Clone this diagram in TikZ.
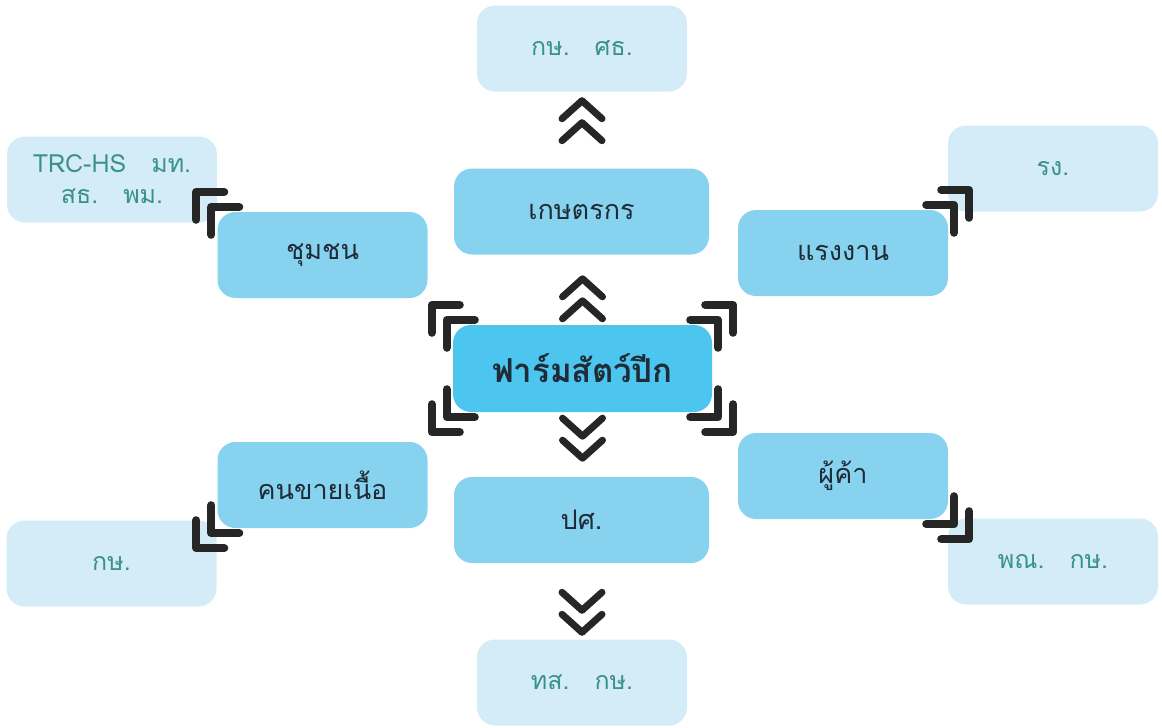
\documentclass[tikz,border=0pt]{standalone}
\usepackage{fontspec}
\setmainfont[Script=Thai]{Loma}
\usetikzlibrary{calc}

\definecolor{hubblue}{HTML}{4CC6EF}
\definecolor{midblue}{HTML}{87D3EF}
\definecolor{paleblue}{HTML}{D3ECF7}
\definecolor{paletext}{HTML}{3A918C}
\definecolor{darktext}{HTML}{1F2B36}
\definecolor{markgray}{HTML}{262626}

\tikzset{
  box/.style={rounded corners=18pt, minimum width=210pt, minimum height=86pt,
    text=darktext, font=\fontsize{27}{32}\selectfont},
  hub/.style={box, fill=hubblue, minimum width=259pt, minimum height=87pt,
    font=\bfseries\fontsize{33}{38}\selectfont},
  midbox/.style={box, fill=midblue},
  widebox/.style={midbox, minimum width=255pt},
  palebox/.style={box, fill=paleblue, text=paletext, align=center,
    font=\fontsize{25}{31}\selectfont},
  markline/.style={line width=8pt, draw=markgray, line cap=round, line join=round},
  chevline/.style={markline, line width=7pt},
  outmark/.pic={
    \draw[markline] (7,-20) -- (-21,-20) -- (-21,8);
    \draw[markline] (22,-5) -- (-6,-5) -- (-6,23);
  },
  chevpair/.pic={
    \draw[chevline] (-20,18) -- (0,0) -- (20,18);
    \draw[chevline] (-20,40) -- (0,22) -- (20,40);
  }
}

\begin{document}
\begin{tikzpicture}[x=1pt,y=-1pt]
\useasboundingbox (0,0) rectangle (1162,728);

\node[hub] (farm) at (582.5,368.5) {ฟาร์มสัตว์ปีก};

\node[widebox] (farmer) at (581.5,211.5) {เกษตรกร};
\node[widebox] (livestock) at (581.5,520) {ปศ.};
\node[midbox] (community) at (322.5,255) {ชุมชน};
\node[midbox] (butcher) at (322.5,485) {คนขายเนื้อ};
\node[midbox] (labour) at (843,253) {แรงงาน};
\node[midbox] (trader) at (843,476) {ผู้ค้า};

\node[palebox] (agriedu) at (582,48.5) {กษ.\quad ศธ.};
\node[palebox] (envagri) at (582,682.5) {ทส.\quad กษ.};
\node[palebox] (agencies) at (112,179.5) {TRC-HS\quad มท.\\สธ.\quad พม.};
\node[palebox] (agri) at (111.5,563.5) {กษ.};
\node[palebox] (industry) at (1053,168.5) {รง.};
\node[palebox] (commerce) at (1053,561.5) {พณ.\quad กษ.};

\pic at ($(farm.north)+(0,-46)$) {chevpair};
\pic at ($(agriedu.south)+(0,9)$) {chevpair};
\pic[yscale=-1] at ($(farm.south)+(0,46)$) {chevpair};
\pic[yscale=-1] at ($(envagri.north)+(0,-7)$) {chevpair};

\pic at (farm.north west) {outmark};
\pic[xscale=-1] at (farm.north east) {outmark};
\pic[yscale=-1] at (farm.south west) {outmark};
\pic[scale=-1] at (farm.south east) {outmark};
\pic at (community.north west) {outmark};
\pic[xscale=-1] at (labour.north east) {outmark};
\pic[yscale=-1] at (butcher.south west) {outmark};
\pic[scale=-1] at (trader.south east) {outmark};
\end{tikzpicture}
\end{document}
